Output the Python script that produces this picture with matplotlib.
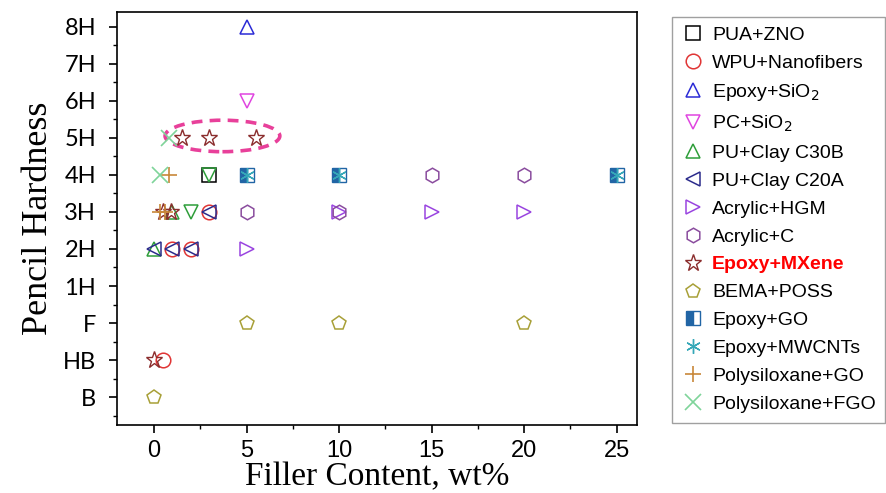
import matplotlib
matplotlib.use("Agg")
import matplotlib.pyplot as plt
from matplotlib.patches import Ellipse
from matplotlib.ticker import MultipleLocator

# Échelle de dureté crayon (B = 0 ... 8H = 10)
hardness_labels = ["B", "HB", "F", "1H", "2H", "3H", "4H", "5H", "6H", "7H", "8H"]

# Données : teneur en charge (wt%) et dureté
pua_zno_x = [3]
pua_zno_y = [6]
wpu_x = [0.5, 1, 2, 3]
wpu_y = [1, 4, 4, 5]
epoxy_sio2_x = [5]
epoxy_sio2_y = [10]
pc_sio2_x = [5]
pc_sio2_y = [8]
pu_c30b_x = [0, 1]
pu_c30b_y = [4, 5]
pu_c30b_down_x = [2, 3]
pu_c30b_down_y = [5, 6]
pu_c20a_x = [0, 1, 2, 3]
pu_c20a_y = [4, 4, 4, 5]
acrylic_hgm_x = [5, 10, 15, 20]
acrylic_hgm_y = [4, 5, 5, 5]
acrylic_c_x = [5, 10, 15, 20]
acrylic_c_y = [5, 5, 6, 6]
mxene_x = [0, 0.5, 0.9, 1.5, 3, 5.5]
mxene_y = [1, 5, 5, 7, 7, 7]
bema_x = [0, 5, 10, 20]
bema_y = [0, 2, 2, 2]
epoxy_go_x = [5, 10, 25]
epoxy_go_y = [6, 6, 6]
mwcnt_x = [5, 10, 25]
mwcnt_y = [6, 6, 6]
poly_go_x = [0.3, 0.6, 0.8]
poly_go_y = [5, 5, 6]
poly_fgo_x = [0.3, 0.8]
poly_fgo_y = [6, 7]

plt.rcParams["font.family"] = ["Liberation Sans", "DejaVu Sans"]
fig = plt.figure(figsize=(8.86, 4.93), dpi=100)
ax = fig.add_axes([0.132, 0.138, 0.587, 0.838])

ms = 10.5
kw = dict(linestyle="none", markersize=ms, markerfacecolor="none", markeredgewidth=1.1)

ax.plot(pua_zno_x, pua_zno_y, marker="s", color="black", label="PUA+ZNO", **kw)
ax.plot(wpu_x, wpu_y, marker="o", color="#e03535", label="WPU+Nanofibers", **kw)
ax.plot(epoxy_sio2_x, epoxy_sio2_y, marker="^", color="#2b2bd6", label="Epoxy+SiO$_2$", **kw)
ax.plot(pc_sio2_x, pc_sio2_y, marker="v", color="#e045e0", label="PC+SiO$_2$", **kw)
ax.plot(pu_c30b_x, pu_c30b_y, marker="^", color="#2e9e3a", label="PU+Clay C30B", **kw)
ax.plot(pu_c30b_down_x, pu_c30b_down_y, marker="v", color="#2e9e3a", label="_nolegend_", **kw)
ax.plot(pu_c20a_x, pu_c20a_y, marker="<", color="#2c2c8c", label="PU+Clay C20A", **kw)
ax.plot(acrylic_hgm_x, acrylic_hgm_y, marker=">", color="#9a45e0", label="Acrylic+HGM", **kw)
ax.plot(acrylic_c_x, acrylic_c_y, marker="h", color="#8a4c9e", label="Acrylic+C", **kw)
ax.plot(mxene_x, mxene_y, marker="*", color="#8b2e2e", label="Epoxy+MXene",
        linestyle="none", markersize=ms + 2, markerfacecolor="none", markeredgewidth=1.0)
ax.plot(bema_x, bema_y, marker="p", color="#a8a038", label="BEMA+POSS", **kw)
ax.plot(epoxy_go_x, epoxy_go_y, marker="s", color="#2165a5", label="Epoxy+GO",
        linestyle="none", markersize=ms - 1, fillstyle="left", markerfacecoloralt="white")
ax.plot(mwcnt_x, mwcnt_y, marker=(6, 2, 0), color="#35a8b8", label="Epoxy+MWCNTs",
        linestyle="none", markersize=ms, markeredgewidth=1.0)
ax.plot(poly_go_x, poly_go_y, marker="+", color="#c8883a", label="Polysiloxane+GO",
        linestyle="none", markersize=ms + 1, markeredgewidth=1.2)
ax.plot(poly_fgo_x, poly_fgo_y, marker="x", color="#7fd49a", label="Polysiloxane+FGO",
        linestyle="none", markersize=ms + 1, markeredgewidth=1.2)

# Ellipse en pointillés autour des points Epoxy+MXene
ax.add_patch(Ellipse((3.7, 7.05), 6.2, 0.85, fill=False, edgecolor="#e8409a",
                     linestyle=(0, (3, 2)), linewidth=2.6))

ax.set_xlim(-2, 26.1)
ax.set_ylim(-0.75, 10.4)
ax.set_xticks([0, 5, 10, 15, 20, 25])
ax.xaxis.set_minor_locator(MultipleLocator(2.5))
ax.set_yticks(range(len(hardness_labels)))
ax.set_yticklabels(hardness_labels, family=["Lato", "DejaVu Sans"], fontsize=17)
ax.yaxis.set_minor_locator(MultipleLocator(0.5))
ax.tick_params(axis="x", labelsize=17, pad=5)
ax.tick_params(axis="y", pad=9)
ax.tick_params(which="major", length=6, width=1.2)
ax.tick_params(which="minor", length=3, width=1.0)
for s in ax.spines.values():
    s.set_linewidth(1.2)

ax.set_xlabel("Filler Content, wt%", family="Liberation Serif", fontsize=24, labelpad=0)
ax.set_ylabel("Pencil Hardness", family="Liberation Serif", fontsize=26, labelpad=6)

leg = fig.legend(loc="upper left", bbox_to_anchor=(0.752, 0.978), fontsize=14,
                 fancybox=False, edgecolor="#888888", labelspacing=0.53,
                 handletextpad=0.45, borderpad=0.5, borderaxespad=0.3, handlelength=1.1)
for t in leg.get_texts():
    if t.get_text() == "Epoxy+MXene":
        t.set_color("red")
        t.set_fontweight("bold")

fig.savefig("out.png", dpi=100)
